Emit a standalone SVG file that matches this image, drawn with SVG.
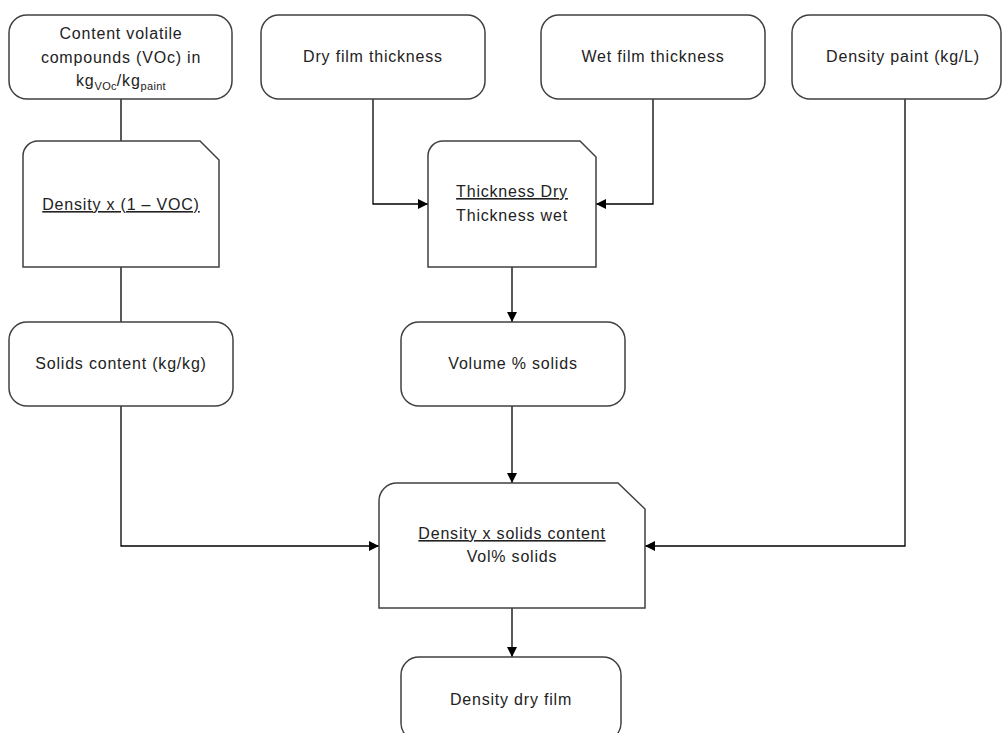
<svg xmlns="http://www.w3.org/2000/svg" width="1002" height="733" viewBox="0 0 1002 733">
<defs>
<marker id="ah" viewBox="0 0 10 10" refX="10" refY="5" markerWidth="10" markerHeight="10" markerUnits="userSpaceOnUse" orient="auto">
<path d="M0,0 L10,5 L0,10 Z" fill="#000"/>
</marker>
<style>
.box{fill:#fff;stroke:#404040;stroke-width:1.5}
.t{font-family:"Liberation Sans",Arial,sans-serif;font-size:16px;letter-spacing:0.8px;fill:#222;text-anchor:middle}
.u{text-decoration:underline}
.c{fill:none;stroke:#000;stroke-width:1.3}
</style>
</defs>
<rect width="1002" height="733" fill="#fff"/>
<g id="connectors">
<path class="c" d="M121,99 V141"/>
<path class="c" d="M121,267 V322"/>
<path class="c" d="M121,406 V546 H379" marker-end="url(#ah)"/>
<path class="c" d="M373,99 V204 H428" marker-end="url(#ah)"/>
<path class="c" d="M653,99 V204 H596" marker-end="url(#ah)"/>
<path class="c" d="M512,267 V322" marker-end="url(#ah)"/>
<path class="c" d="M512,406 V483" marker-end="url(#ah)"/>
<path class="c" d="M905,99 V546 H645" marker-end="url(#ah)"/>
<path class="c" d="M512,608 V657" marker-end="url(#ah)"/>
</g>
<g id="n-voc">
<rect class="box" x="9" y="15" width="223" height="84" rx="18"/>
<text class="t" x="121" y="39">Content volatile</text>
<text class="t" x="121" y="63">compounds (VOc) in</text>
<text class="t" x="121" y="86">kg<tspan font-size="11" letter-spacing="0.3" dy="4">VOc</tspan><tspan dy="-4">/kg</tspan><tspan font-size="11" letter-spacing="0.3" dy="4">paint</tspan></text>
</g>
<g id="n-dry">
<rect class="box" x="261" y="15" width="224" height="84" rx="18"/>
<text class="t" x="373" y="62">Dry film thickness</text>
</g>
<g id="n-wet">
<rect class="box" x="541" y="15" width="224" height="84" rx="18"/>
<text class="t" x="653" y="62">Wet film thickness</text>
</g>
<g id="n-paint">
<rect class="box" x="792" y="15" width="209" height="84" rx="18"/>
<text class="t" x="903" y="62">Density paint (kg/L)</text>
</g>
<g id="n-calc1">
<path class="box" d="M38,141 H200 L219,160 V267 H23 V156 A15,15 0 0 1 38,141 Z"/>
<text class="t u" x="121" y="210">Density x (1 – VOC)</text>
</g>
<g id="n-calc2">
<path class="box" d="M443,141 H580 L596,157 V267 H428 V156 A15,15 0 0 1 443,141 Z"/>
<text class="t u" x="512" y="197">Thickness Dry</text>
<text class="t" x="512" y="221">Thickness wet</text>
</g>
<g id="n-solids">
<rect class="box" x="9" y="322" width="224" height="84" rx="18"/>
<text class="t" x="121" y="369">Solids content (kg/kg)</text>
</g>
<g id="n-vol">
<rect class="box" x="401" y="322" width="224" height="84" rx="18"/>
<text class="t" x="513" y="369">Volume % solids</text>
</g>
<g id="n-calc3">
<path class="box" d="M397,483 H618 L645,509 V608 H379 V501 A18,18 0 0 1 397,483 Z"/>
<text class="t u" x="512" y="539">Density x solids content</text>
<text class="t" x="512" y="562">Vol% solids</text>
</g>
<g id="n-film">
<rect class="box" x="401" y="657" width="220" height="84" rx="18"/>
<text class="t" x="511" y="705">Density dry film</text>
</g>
</svg>
